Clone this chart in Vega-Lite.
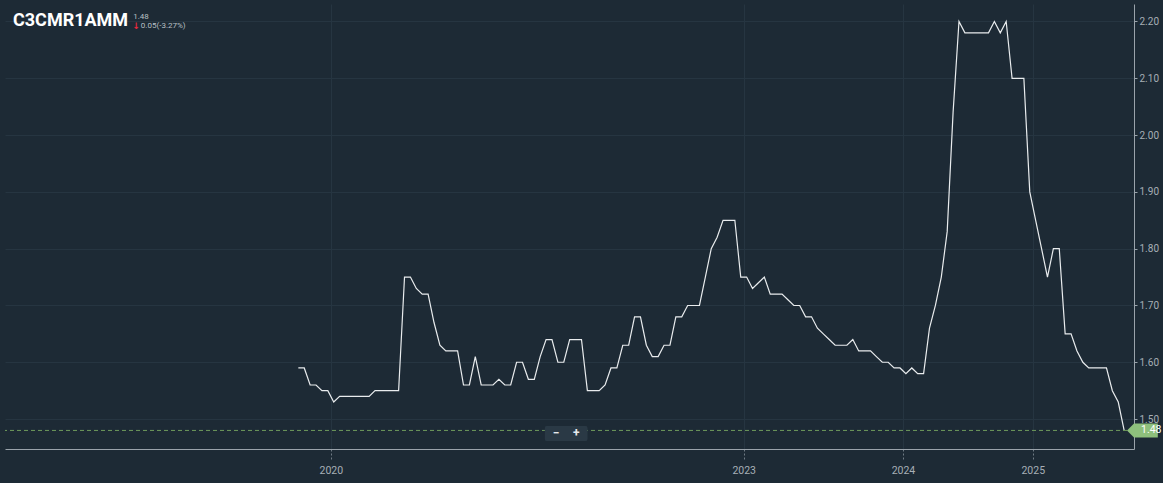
{
  "$schema": "https://vega.github.io/schema/vega-lite/v6.json",
  "width": 1129,
  "height": 445,
  "autosize": {"type": "none"},
  "padding": {"left": 5, "top": 4, "right": 29, "bottom": 34},
  "background": "#1d2a35",
  "config": {"view": {"stroke": null}, "font": "Roboto"},
  "title": {
    "text": "C3CMR1AMM",
    "anchor": "start",
    "frame": "group",
    "orient": "top",
    "offset": -26,
    "dx": 8,
    "font": "Roboto",
    "fontSize": 18,
    "fontWeight": "bold",
    "color": "#ffffff"
  },
  "datasets": {
    "series": [
      {"i":0,"v":1.59},{"i":1,"v":1.59},{"i":2,"v":1.56},{"i":3,"v":1.56},{"i":4,"v":1.55},{"i":5,"v":1.55},{"i":6,"v":1.53},{"i":7,"v":1.54},{"i":8,"v":1.54},{"i":9,"v":1.54},
      {"i":10,"v":1.54},{"i":11,"v":1.54},{"i":12,"v":1.54},{"i":13,"v":1.55},{"i":14,"v":1.55},{"i":15,"v":1.55},{"i":16,"v":1.55},{"i":17,"v":1.55},{"i":18,"v":1.75},{"i":19,"v":1.75},
      {"i":20,"v":1.73},{"i":21,"v":1.72},{"i":22,"v":1.72},{"i":23,"v":1.67},{"i":24,"v":1.63},{"i":25,"v":1.62},{"i":26,"v":1.62},{"i":27,"v":1.62},{"i":28,"v":1.56},{"i":29,"v":1.56},
      {"i":30,"v":1.61},{"i":31,"v":1.56},{"i":32,"v":1.56},{"i":33,"v":1.56},{"i":34,"v":1.57},{"i":35,"v":1.56},{"i":36,"v":1.56},{"i":37,"v":1.60},{"i":38,"v":1.60},{"i":39,"v":1.57},
      {"i":40,"v":1.57},{"i":41,"v":1.61},{"i":42,"v":1.64},{"i":43,"v":1.64},{"i":44,"v":1.60},{"i":45,"v":1.60},{"i":46,"v":1.64},{"i":47,"v":1.64},{"i":48,"v":1.64},{"i":49,"v":1.55},
      {"i":50,"v":1.55},{"i":51,"v":1.55},{"i":52,"v":1.56},{"i":53,"v":1.59},{"i":54,"v":1.59},{"i":55,"v":1.63},{"i":56,"v":1.63},{"i":57,"v":1.68},{"i":58,"v":1.68},{"i":59,"v":1.63},
      {"i":60,"v":1.61},{"i":61,"v":1.61},{"i":62,"v":1.63},{"i":63,"v":1.63},{"i":64,"v":1.68},{"i":65,"v":1.68},{"i":66,"v":1.70},{"i":67,"v":1.70},{"i":68,"v":1.70},{"i":69,"v":1.75},
      {"i":70,"v":1.80},{"i":71,"v":1.82},{"i":72,"v":1.85},{"i":73,"v":1.85},{"i":74,"v":1.85},{"i":75,"v":1.75},{"i":76,"v":1.75},{"i":77,"v":1.73},{"i":78,"v":1.74},{"i":79,"v":1.75},
      {"i":80,"v":1.72},{"i":81,"v":1.72},{"i":82,"v":1.72},{"i":83,"v":1.71},{"i":84,"v":1.70},{"i":85,"v":1.70},{"i":86,"v":1.68},{"i":87,"v":1.68},{"i":88,"v":1.66},{"i":89,"v":1.65},
      {"i":90,"v":1.64},{"i":91,"v":1.63},{"i":92,"v":1.63},{"i":93,"v":1.63},{"i":94,"v":1.64},{"i":95,"v":1.62},{"i":96,"v":1.62},{"i":97,"v":1.62},{"i":98,"v":1.61},{"i":99,"v":1.60},
      {"i":100,"v":1.60},{"i":101,"v":1.59},{"i":102,"v":1.59},{"i":103,"v":1.58},{"i":104,"v":1.59},{"i":105,"v":1.58},{"i":106,"v":1.58},{"i":107,"v":1.66},{"i":108,"v":1.70},{"i":109,"v":1.75},
      {"i":110,"v":1.83},{"i":111,"v":2.04},{"i":112,"v":2.20},{"i":113,"v":2.18},{"i":114,"v":2.18},{"i":115,"v":2.18},{"i":116,"v":2.18},{"i":117,"v":2.18},{"i":118,"v":2.20},{"i":119,"v":2.18},
      {"i":120,"v":2.20},{"i":121,"v":2.10},{"i":122,"v":2.10},{"i":123,"v":2.10},{"i":124,"v":1.90},{"i":125,"v":1.85},{"i":126,"v":1.80},{"i":127,"v":1.75},{"i":128,"v":1.80},{"i":129,"v":1.80},
      {"i":130,"v":1.65},{"i":131,"v":1.65},{"i":132,"v":1.62},{"i":133,"v":1.60},{"i":134,"v":1.59},{"i":135,"v":1.59},{"i":136,"v":1.59},{"i":137,"v":1.59},{"i":138,"v":1.55},{"i":139,"v":1.53},
      {"i":140,"v":1.48}
    ],
    "price": [{"label": "1.48"}],
    "arrow": [{"label": "↓"}],
    "change": [{"label": "0.05(-3.27%)"}],
    "zoom": [{"label": "−", "pos": 43.7}, {"label": "+", "pos": 47.1}]
  },
  "layer": [
    {
      "data": {"name": "series"},
      "mark": {"type": "line", "color": "#e9ecee", "strokeWidth": 1.2},
      "encoding": {
        "x": {
          "field": "i", "type": "quantitative",
          "scale": {"domain": [-49.73, 141.67], "nice": false, "zero": false},
          "axis": {
            "values": [5.5, 75.5, 102.5, 124.5],
            "labelExpr": "datum.value < 10 ? '2020' : datum.value < 90 ? '2023' : datum.value < 110 ? '2024' : '2025'",
            "title": null,
            "grid": true, "gridColor": "#263541", "gridWidth": 1,
            "domainColor": "#9aa3ab", "domainWidth": 1,
            "tickColor": "#6f7a84", "tickDash": [2, 2], "tickSize": 12,
            "labelColor": "#a7afb6", "labelFontSize": 10.5, "labelPadding": 4, "labelFont": "Roboto"
          }
        },
        "y": {
          "field": "v", "type": "quantitative",
          "scale": {"domain": [1.4473, 2.2308], "nice": false, "zero": false},
          "axis": {
            "orient": "right",
            "values": [1.5, 1.6, 1.7, 1.8, 1.9, 2.0, 2.1, 2.2],
            "format": ".2f",
            "title": null,
            "grid": true, "gridColor": "#263541", "gridWidth": 1,
            "domainColor": "#9aa3ab", "domainWidth": 1,
            "tickColor": "#9aa3ab", "tickSize": 3,
            "labelColor": "#a7afb6", "labelFontSize": 10, "labelPadding": 2, "labelFont": "Roboto"
          }
        }
      }
    },
    {
      "data": {"name": "series"},
      "transform": [{"filter": "datum.i == 140"}],
      "mark": {"type": "rule", "color": "#6f9a5b", "strokeDash": [4, 3], "strokeWidth": 1},
      "encoding": {"y": {"field": "v", "type": "quantitative"}}
    },
    {
      "data": {"name": "zoom"},
      "mark": {"type": "rect", "color": "#2a3945", "cornerRadius": 2},
      "encoding": {"x": {"datum": 41.8}, "x2": {"datum": 49.0}, "y": {"datum": 1.4878}, "y2": {"datum": 1.4614}}
    },
    {
      "data": {"name": "zoom"},
      "mark": {"type": "text", "align": "center", "baseline": "middle", "color": "#e6e9ec", "fontSize": 12, "fontWeight": "bold", "font": "Roboto"},
      "encoding": {"x": {"field": "pos", "type": "quantitative"}, "y": {"datum": 1.4746}, "text": {"field": "label"}}
    },
    {
      "data": {"name": "series"},
      "transform": [{"filter": "datum.i == 140"}],
      "mark": {"type": "point", "shape": "M -1 0 L 0 -1 L 3.4 -1 L 3.4 1 L 0 1 Z", "filled": true, "color": "#8ec07c", "opacity": 1, "size": 196, "strokeWidth": 0},
      "encoding": {"x": {"value": "width"}, "y": {"field": "v", "type": "quantitative"}}
    },
    {
      "data": {"name": "series"},
      "transform": [{"filter": "datum.i == 140"}],
      "mark": {"type": "text", "align": "left", "baseline": "middle", "dx": 7, "color": "#ffffff", "fontSize": 10.5, "font": "Roboto"},
      "encoding": {"x": {"value": "width"}, "y": {"field": "v", "type": "quantitative"}, "text": {"field": "v", "type": "quantitative", "format": ".2f"}}
    },
    {
      "data": {"name": "price"},
      "mark": {"type": "text", "align": "left", "baseline": "middle", "color": "#b9c0c6", "fontSize": 8, "font": "Roboto"},
      "encoding": {"x": {"datum": -28.0}, "y": {"datum": 2.2079}, "text": {"field": "label"}}
    },
    {
      "data": {"name": "arrow"},
      "mark": {"type": "text", "align": "left", "baseline": "middle", "color": "#e8283c", "fontSize": 9, "fontWeight": "bold", "font": "DejaVu Sans"},
      "encoding": {"x": {"datum": -28.1}, "y": {"datum": 2.1921}, "text": {"field": "label"}}
    },
    {
      "data": {"name": "change"},
      "mark": {"type": "text", "align": "left", "baseline": "middle", "color": "#b9c0c6", "fontSize": 8, "font": "Roboto"},
      "encoding": {"x": {"datum": -26.7}, "y": {"datum": 2.1921}, "text": {"field": "label"}}
    }
  ]
}
